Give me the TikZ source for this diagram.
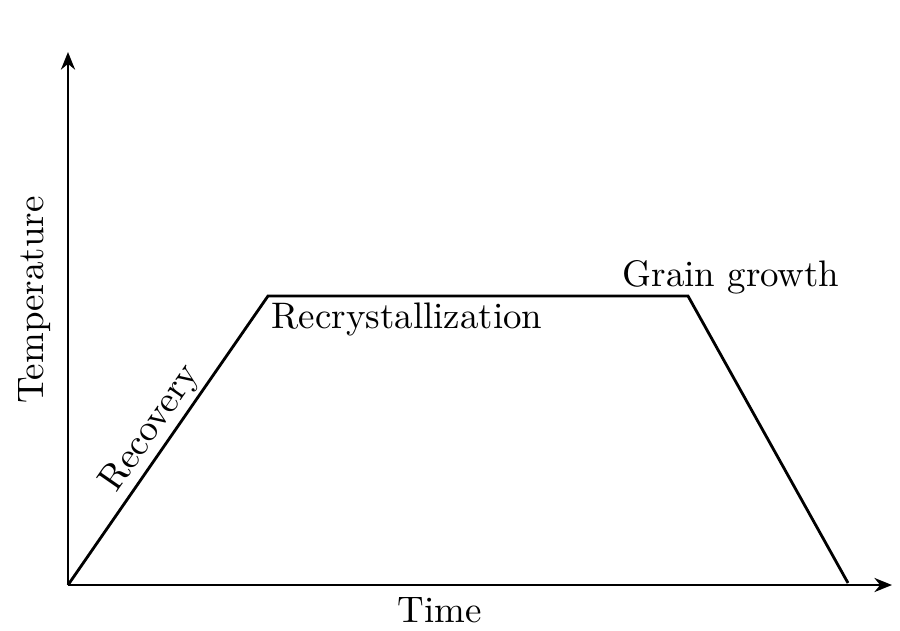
\documentclass[tikz,border=0pt]{standalone}
\usetikzlibrary{arrows.meta}
\begin{document}
\begin{tikzpicture}[x=0.01cm,y=-0.01cm,
  axis/.style={line width=0.75pt,-{Stealth[length=5pt,width=4pt]}},
  curve/.style={line width=0.8pt,line join=miter},
  lbl/.style={font=\fontsize{10.5}{12}\selectfont,inner sep=0pt}]
\useasboundingbox (0,0) rectangle (900,630);
\coordinate (O) at (68,585);
\coordinate (Y) at (68,52);
\coordinate (X) at (892,585);
\coordinate (A) at (268,296);
\coordinate (B) at (688,296);
\coordinate (C) at (848,583);
\draw[axis] (O) -- (Y);
\draw[axis] (O) -- (X);
\draw[curve] (O) -- (A) -- (B) -- (C);
\node[lbl,rotate=90] (temp) at (35,300) {Temperature};
\node[lbl] (time) at (440,610) {Time};
\node[lbl,anchor=west] (recr) at (271,319) {Recrystallization};
\node[lbl] (grain) at (731,277) {Grain growth};
\path (O) -- (A) node[lbl,pos=0.5,sloped,above=1pt] (rec) {Recovery};
\end{tikzpicture}
\end{document}
